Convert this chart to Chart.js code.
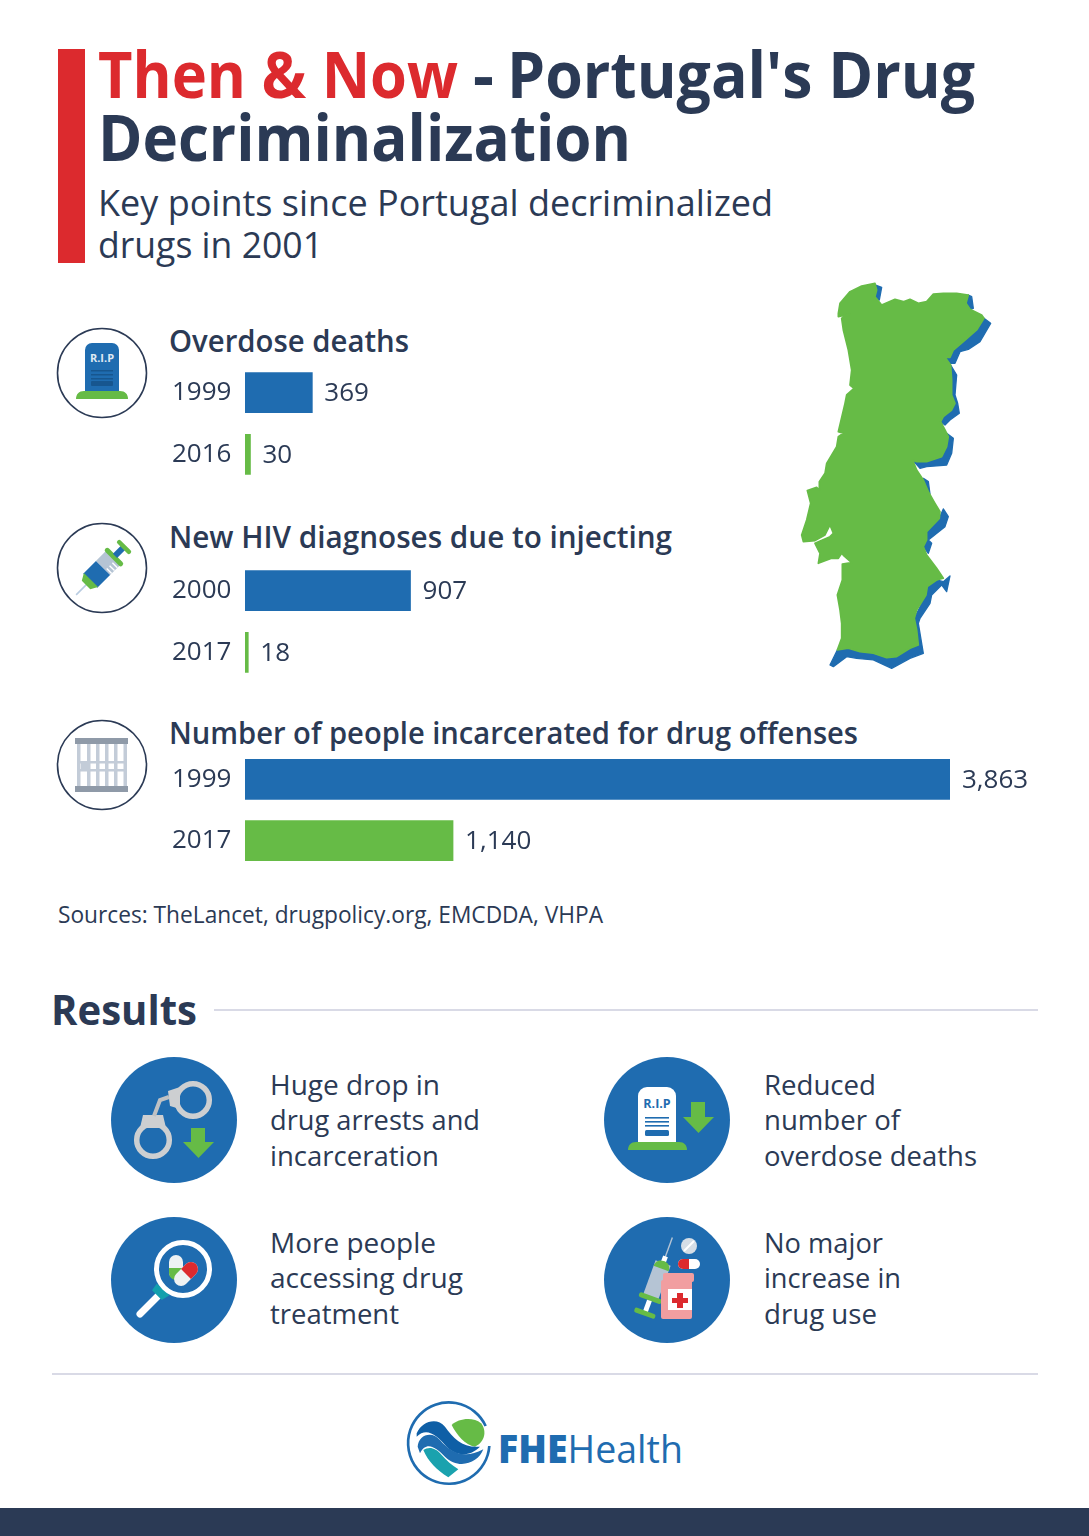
<!DOCTYPE html>
<html lang="en">
<head>
<meta charset="utf-8">
<title>Then & Now - Portugal's Drug Decriminalization</title>
<script src="https://cdn.jsdelivr.net/npm/chart.js@4/dist/chart.umd.min.js"></script>
<style>
  html, body { margin: 0; padding: 0; background: #fff; }
  #page { position: relative; width: 1089px; height: 1536px; overflow: hidden; }
  #art { position: absolute; left: 0; top: 0; }
  #art text { font-family: "Open Sans", sans-serif; fill: #2b3a55; }
  #art .h1 { font-size: 65px; font-weight: 700; }
  #art .h2 { font-size: 37px; }
  #art .h3 { font-size: 30px; font-weight: 600; }
  #art .src { font-size: 23px; }
  #art .res { font-size: 28px; }
  canvas { position: absolute; left: 172px; }
</style>
</head>
<body>
<div id="page">
<svg id="art" width="1089" height="1536" viewBox="0 0 1089 1536">
  <rect x="58" y="49" width="27" height="214" fill="#dc2a2e"/>
  <text class="h1" y="98"><tspan x="98" textLength="360" lengthAdjust="spacingAndGlyphs" style="fill:#dc2a2e">Then &amp; Now</tspan> <tspan x="473">-</tspan> <tspan x="507" textLength="468" lengthAdjust="spacingAndGlyphs">Portugal's Drug</tspan></text>
  <text class="h1" x="98" y="161" textLength="533" lengthAdjust="spacingAndGlyphs">Decriminalization</text>
  <text class="h2" x="98" y="216" textLength="675" lengthAdjust="spacingAndGlyphs">Key points since Portugal decriminalized</text>
  <text class="h2" x="98" y="258" textLength="225" lengthAdjust="spacingAndGlyphs">drugs in 2001</text>

  <text class="h3" x="169" y="352" textLength="240" lengthAdjust="spacingAndGlyphs">Overdose deaths</text>
  <text class="h3" x="169" y="548" textLength="503" lengthAdjust="spacingAndGlyphs">New HIV diagnoses due to injecting</text>
  <text class="h3" x="169" y="744" textLength="689" lengthAdjust="spacingAndGlyphs">Number of people incarcerated for drug offenses</text>
  <text class="src" x="58" y="923" textLength="545" lengthAdjust="spacingAndGlyphs">Sources: TheLancet, drugpolicy.org, EMCDDA, VHPA</text>

  <!-- map -->
  <g transform="translate(780 270) scale(.3333)" stroke-linejoin="round">
    <g fill="#1f6cb0" stroke="#1f6cb0" stroke-width="4">
      <path d="M285 45L305 52 298 90 282 80Z"/>
      <path d="M565 75L575 80 580 115 570 118 558 100Z"/>
      <path d="M612 145L632 160 600 215 565 238 540 245 525 280 500 280 495 262 520 240 550 215 590 180Z"/>
      <path d="M512 285L530 315 525 375 533 400 538 430 510 450 495 465 482 455 490 440 515 420Z"/>
      <path d="M500 490L520 505 515 550 500 585 440 590 420 595 398 570 440 575 485 560 500 530Z"/>
      <path d="M430 625L445 635 450 672 440 655Z"/>
      <path d="M490 717L505 740 495 770 445 810 455 820 445 850 430 830 440 785 478 745Z"/>
      <path d="M510 918L500 965 485 945 455 975 450 1000 420 1045 415 1060 430 1150 390 1165 335 1195 280 1170 230 1165 200 1160 160 1190 150 1185 172 1140 205 1135 240 1145 280 1150 320 1163 350 1160 390 1135 415 1125 403 1045 438 975 442 950 470 930 490 935Z"/>
    </g>
    <path fill="#66bb46" stroke="#66bb46" stroke-width="5" d="M175 130L180 100 210 65 245 48 285 40 290 60 285 80 305 105 345 88 370 95 390 88 415 100 440 95 460 72 490 70 530 70 565 75 558 100 570 118 605 135 612 145 590 180 550 215 520 240 510 262 495 262 512 285 515 330 515 375 525 400 515 420 490 440 482 455 495 480 505 500 500 530 485 560 440 575 410 575 398 570 410 600 430 630 445 665 465 700 480 725 478 745 440 785 440 810 430 830 440 855 470 895 490 925 470 930 442 950 438 975 410 1020 403 1045 410 1080 415 1125 390 1135 350 1160 320 1163 280 1150 240 1145 205 1135 172 1140 185 1105 185 1060 180 1020 172 975 187 930 187 882 215 878 192 858 185 850 175 865 155 865 115 880 120 850 105 820 150 800 160 790 150 765 135 795 105 812 70 815 65 795 80 750 92 700 82 662 110 652 118 660 118 635 135 610 140 580 170 530 175 500 190 490 175 485 195 400 200 375 222 355 210 345 215 300 205 240 190 180 185 145 210 132 175 140Z"/>
  </g>

  <!-- outlined icons -->
  <g fill="none" stroke="#2b3a55" stroke-width="1.6">
    <circle cx="102" cy="373" r="44.5"/>
    <circle cx="102" cy="568" r="44.5"/>
    <circle cx="102" cy="765" r="44.5"/>
  </g>
  <path d="M85 392V350a7 7 0 0 1 7-7h20a7 7 0 0 1 7 7v42Z" fill="#1f6cb0"/>
  <path d="M76 399c0-5 3-8 8-8h36c5 0 8 3 8 8Z" fill="#66bb46"/>
  <text x="102" y="362" text-anchor="middle" style="font-size:11px;font-weight:700;fill:#dfe9f3">R.I.P</text>
  <g fill="#17568f"><rect x="91" y="370" width="22" height="1.5"/><rect x="91" y="374" width="22" height="1.5"/><rect x="91" y="378" width="22" height="1.5"/><rect x="91" y="381" width="22" height="5" rx="1"/></g>

  <g transform="translate(103 568) rotate(45)">
    <rect x="-.8" y="20" width="1.6" height="18" fill="#b8cbe0"/>
    <rect x="-10" y="-14" width="20" height="14" fill="#b5c4d4"/>
    <rect x="-10" y="0" width="20" height="18" fill="#1f6cb0"/>
    <path d="M-10 17H10L6 24H-6Z" fill="#66bb46"/>
    <rect x="-12" y="-18" width="24" height="5" rx="2.5" fill="#66bb46"/>
    <rect x="-3" y="-29" width="6" height="12" fill="#1f6cb0"/>
    <rect x="-9" y="-32" width="18" height="4.5" rx="2" fill="#66bb46"/>
    <g fill="#fff"><rect x="3" y="-11" width="7" height="1.4"/><rect x="3" y="-7" width="7" height="1.4"/><rect x="3" y="-3" width="7" height="1.4"/></g>
  </g>

  <g fill="#c3ccd8">
    <rect x="77" y="740" width="3.500" height="50"/><rect x="87" y="740" width="3.500" height="50"/><rect x="96" y="740" width="3.500" height="50"/><rect x="105" y="740" width="3.500" height="50"/><rect x="114" y="740" width="3.500" height="50"/><rect x="123.500" y="740" width="3.500" height="50"/>
    <rect x="77" y="761" width="50" height="2.500"/><rect x="77" y="769" width="50" height="2.500"/>
    <rect x="81" y="763" width="6" height="6"/>
  </g>
  <rect x="75" y="738" width="53" height="6" fill="#8f9aa8"/>
  <rect x="75" y="786" width="53" height="6" fill="#8f9aa8"/>

  <!-- results -->
  <text x="51" y="1025" style="font-size:41px;font-weight:700" textLength="146" lengthAdjust="spacingAndGlyphs">Results</text>
  <rect x="214" y="1009" width="824" height="2" fill="#d9dae6"/>
  <rect x="52" y="1373" width="986" height="2" fill="#d9dae6"/>

  <g fill="#1f6cb0">
    <circle cx="174" cy="1120" r="63"/><circle cx="667" cy="1120" r="63"/>
    <circle cx="174" cy="1280" r="63"/><circle cx="667" cy="1280" r="63"/>
  </g>

  <!-- handcuffs -->
  <circle cx="193" cy="1100" r="16.300" fill="none" stroke="#cdcfd1" stroke-width="5.500"/>
  <circle cx="153" cy="1140" r="16.300" fill="none" stroke="#cdcfd1" stroke-width="5.500"/>
  <path d="M168 1091l12-4v22l-10-3Z" fill="#cdcfd1"/>
  <path d="M143 1115h20l3 13h-26Z" fill="#cdcfd1"/>
  <path d="M169 1097l-9 3-6 16" fill="none" stroke="#bfc1c3" stroke-width="4"/>
  <path d="M191 1128h14v14h9l-15.500 16-15.500-16h8Z" fill="#66bb46"/>

  <!-- magnifier and pills -->
  <path d="M140 1314l19-19" stroke="#fff" stroke-width="7" stroke-linecap="round"/>
  <path d="M157 1286l-3 4 8 8 5-3Z" fill="#12a0ad" stroke="#12a0ad" stroke-width="3"/>
  <circle cx="183" cy="1269" r="26.500" fill="#1f6cb0" stroke="#fff" stroke-width="5"/>
  <rect x="169" y="1255" width="14" height="24" rx="7" fill="#eef2f3"/>
  <path d="M169 1268h14v5a7 7 0 0 1-14 0Z" fill="#66bb46"/>
  <g transform="rotate(45 186 1274)">
    <rect x="179" y="1260" width="14" height="28" rx="7" fill="#eef2f3"/>
    <path d="M179 1274v-7a7 7 0 0 1 14 0v7Z" fill="#dc2a2e"/>
  </g>

  <!-- white tombstone -->
  <path d="M638 1142v-46a9 9 0 0 1 9-9h20a9 9 0 0 1 9 9v46Z" fill="#fff"/>
  <path d="M628 1150c0-5 3-8 8-8h43c5 0 8 3 8 8Z" fill="#66bb46"/>
  <text x="657" y="1108" text-anchor="middle" style="font-size:12.500px;font-weight:700;fill:#1f6cb0">R.I.P</text>
  <g fill="#1f6cb0"><rect x="645" y="1117" width="24" height="1.600"/><rect x="645" y="1121" width="24" height="1.600"/><rect x="645" y="1125" width="24" height="1.600"/><rect x="645" y="1130" width="24" height="6" rx="1.500"/></g>
  <path d="M691 1102h14v15h9l-15.500 16-15.500-16h8Z" fill="#66bb46"/>

  <!-- syringe and bottle -->
  <g transform="translate(658 1277) rotate(20)">
    <rect x="-.7" y="-42" width="1.400" height="24" fill="#b5c4d4"/>
    <rect x="-2.500" y="-22" width="5" height="6" fill="#fff"/>
    <rect x="-8" y="-15" width="16" height="36" fill="#b5c4d4"/>
    <path d="M-8 -9C-8 -15 -4 -17 0 -17S8 -15 8 -9Z" fill="#66bb46"/>
    <rect x="-12" y="20" width="24" height="5" rx="2.500" fill="#66bb46"/>
    <rect x="-2.500" y="25" width="5" height="12" fill="#fff"/>
    <rect x="-11" y="36" width="22" height="5" rx="2" fill="#66bb46"/>
  </g>
  <rect x="661" y="1280" width="31" height="39" rx="2" fill="#f19ea0"/>
  <rect x="663" y="1273" width="31" height="9" rx="2" fill="#f19ea0"/>
  <rect x="668" y="1289" width="24" height="21" fill="#fff"/>
  <path d="M677 1293h6v5h5v5h-5v5h-6v-5h-5v-5h5Z" fill="#dc2a2e"/>
  <circle cx="689" cy="1246" r="8" fill="#d6dee6"/>
  <path d="M684 1251l10-10" stroke="#fff" stroke-width="2"/>
  <rect x="678" y="1259" width="22" height="10" rx="5" fill="#fff"/>
  <path d="M689 1259h-6a5 5 0 0 0 0 10h6Z" fill="#dc2a2e"/>

  <g class="res">
    <text class="res" x="270" y="1095" textLength="170" lengthAdjust="spacingAndGlyphs">Huge drop in</text>
    <text class="res" x="270" y="1130" textLength="210" lengthAdjust="spacingAndGlyphs">drug arrests and</text>
    <text class="res" x="270" y="1166" textLength="169" lengthAdjust="spacingAndGlyphs">incarceration</text>
    <text class="res" x="764" y="1095" textLength="112" lengthAdjust="spacingAndGlyphs">Reduced</text>
    <text class="res" x="764" y="1130" textLength="136" lengthAdjust="spacingAndGlyphs">number of</text>
    <text class="res" x="764" y="1166" textLength="213" lengthAdjust="spacingAndGlyphs">overdose deaths</text>
    <text class="res" x="270" y="1253" textLength="166" lengthAdjust="spacingAndGlyphs">More people</text>
    <text class="res" x="270" y="1288" textLength="193" lengthAdjust="spacingAndGlyphs">accessing drug</text>
    <text class="res" x="270" y="1324" textLength="129" lengthAdjust="spacingAndGlyphs">treatment</text>
    <text class="res" x="764" y="1253" textLength="119" lengthAdjust="spacingAndGlyphs">No major</text>
    <text class="res" x="764" y="1288" textLength="137" lengthAdjust="spacingAndGlyphs">increase in</text>
    <text class="res" x="764" y="1324" textLength="113" lengthAdjust="spacingAndGlyphs">drug use</text>
  </g>

  <!-- logo -->
  <g transform="translate(395 1390) scale(.3333)">
    <path d="M272 108A122 122 0 1 0 283 168" fill="none" stroke="#1f6cb0" stroke-width="8"/>
    <path d="M170 105C190 85 235 80 258 100 275 120 272 155 240 170 210 165 185 135 170 105Z" fill="#66bb46"/>
    <path d="M65 130C80 95 125 80 150 110 175 145 205 175 255 170 225 200 185 200 155 170 125 135 95 110 65 140Z" fill="#0f5fa6"/>
    <path d="M68 170C70 135 110 120 135 150 165 185 205 210 265 178 250 220 190 240 150 200 125 175 95 150 75 190Z" fill="#1f6cb0"/>
    <path d="M85 180C100 170 120 170 140 195 155 212 170 225 190 238L160 262C125 240 100 215 85 180Z" fill="#1aa2ae"/>
  </g>
  <text x="498" y="1463" textLength="185" lengthAdjust="spacingAndGlyphs" style="font-size:38px;fill:#1f6cb0"><tspan style="font-weight:800">FHE</tspan>Health</text>

  <rect x="0" y="1508" width="1089" height="28" fill="#2b3a55"/>
</svg>

<!-- canvases are taller than the two rows: the y scale keeps half a label free above and below -->
<canvas id="chart1" width="917" height="155" style="top:346px"></canvas>
<canvas id="chart2" width="917" height="155" style="top:544px"></canvas>
<canvas id="chart3" width="917" height="154" style="top:733px"></canvas>
</div>

<script>
// Values
const overdoseYears = ["1999", "2016"];
const overdoseDeaths = [369, 30];
const hivYears = ["2000", "2017"];
const hivDiagnoses = [907, 18];
const prisonYears = ["1999", "2017"];
const prisonPeople = [3863, 1140];

const axisMax = 3863; // the three panels share one scale
const barColors = ["#1f6cb0", "#66bb46"];
const textColor = "#2b3a55";
const textFont = { family: '"Open Sans", sans-serif', size: 26 };

// Writes the value just right of each bar
const valueLabels = {
    id: "valueLabels",
    afterDatasetsDraw(chart) {
        const ctx = chart.ctx;
        const values = chart.data.datasets[0].data;
        ctx.save();
        ctx.font = `${textFont.size}px ${textFont.family}`;
        ctx.fillStyle = textColor;
        ctx.textBaseline = "middle";
        chart.getDatasetMeta(0).data.forEach(function(bar, i) {
            ctx.fillText(values[i].toLocaleString("en-US"), bar.x + 12, bar.y + 1);
        });
        ctx.restore();
    }
};

function drawPanel(id, years, values) {
    new Chart(document.getElementById(id), {
        type: "bar",
        data: {
            labels: years,
            datasets: [{
                data: values,
                backgroundColor: barColors,
                barThickness: 40
            }]
        },
        options: {
            indexAxis: "y",
            responsive: false,
            animation: false,
            layout: { padding: { right: 139 } },
            plugins: { legend: { display: false }, tooltip: { enabled: false } },
            scales: {
                x: { display: false, min: 0, max: axisMax },
                y: {
                    grid: { display: false },
                    border: { display: false },
                    afterFit(scale) { scale.width = 73; },
                    ticks: { color: textColor, font: textFont, crossAlign: "far", padding: 0 }
                }
            }
        },
        plugins: [valueLabels]
    });
}

drawPanel("chart1", overdoseYears, overdoseDeaths);
drawPanel("chart2", hivYears, hivDiagnoses);
drawPanel("chart3", prisonYears, prisonPeople);
</script>
</body>
</html>
